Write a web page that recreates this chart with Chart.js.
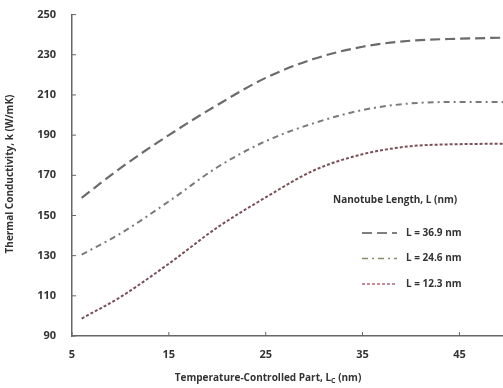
<!DOCTYPE html>
<html>
<head>
<meta charset="utf-8">
<script src="https://cdn.jsdelivr.net/npm/chart.js@4.4.0/dist/chart.umd.min.js"></script>
<style>
  html, body { margin: 0; padding: 0; background: #fff; }
  #wrap { width: 503px; height: 388px; }
</style>
</head>
<body>
<div id="wrap"><canvas id="kChart"></canvas></div>
<script>
// Data
const lc = [6, 10, 15, 20, 25, 30, 35, 40, 45, 49.5];
const k369 = [158.8, 173.6, 190, 205, 218.5, 228, 234, 237, 238, 238.5];
const k246 = [130.5, 141, 157, 174, 187, 196, 202.5, 205.8, 206.5, 206.5];
const k123 = [98.7, 109.4, 126, 144, 159, 172.5, 180.5, 184.5, 185.5, 185.7];
const seriesLabels = ['L = 36.9 nm', 'L = 24.6 nm', 'L = 12.3 nm'];
const xTicks = [5, 15, 25, 35, 45];
const yTicks = [90, 110, 130, 150, 170, 190, 210, 230, 250];

const textColor = '#333';
const axisColor = '#666';

function pts(ys) {
    return lc.map((x, i) => ({ x: x, y: ys[i] }));
}

// small inward ticks, axis titles and the legend box drawn on the canvas
const decorations = {
    id: 'decorations',
    afterDraw(chart) {
        const ctx = chart.ctx;
        const xs = chart.scales.x, ys = chart.scales.y;
        const area = chart.chartArea;
        ctx.save();
        ctx.strokeStyle = axisColor;
        ctx.lineWidth = 1;
        xTicks.forEach(v => {
            const px = xs.getPixelForValue(v);
            ctx.beginPath();
            ctx.moveTo(px, area.bottom);
            ctx.lineTo(px, area.bottom - 4);
            ctx.stroke();
        });
        yTicks.forEach(v => {
            const py = ys.getPixelForValue(v);
            ctx.beginPath();
            ctx.moveTo(area.left, py);
            ctx.lineTo(area.left + 4, py);
            ctx.stroke();
        });

        ctx.fillStyle = textColor;
        // y title
        ctx.font = 'bold 10px "Open Sans"';
        ctx.textAlign = 'center';
        ctx.textBaseline = 'middle';
        ctx.save();
        ctx.translate(10, 174);
        ctx.rotate(-Math.PI / 2);
        ctx.fillText('Thermal Conductivity, k (W/mK)', 0, 0);
        ctx.restore();

        // x title with subscript
        const main = 'Temperature-Controlled Part, L';
        const sub = 'C';
        const tail = ' (nm)';
        ctx.font = 'bold 10px "Open Sans"';
        const w1 = ctx.measureText(main).width;
        const w3 = ctx.measureText(tail).width;
        ctx.font = 'bold 7px "Open Sans"';
        const w2 = ctx.measureText(sub).width;
        let x0 = 268 - (w1 + w2 + w3) / 2;
        const yT = 378;
        ctx.textAlign = 'left';
        ctx.font = 'bold 10px "Open Sans"';
        ctx.fillText(main, x0, yT);
        ctx.font = 'bold 7px "Open Sans"';
        ctx.fillText(sub, x0 + w1, yT + 3);
        ctx.font = 'bold 10px "Open Sans"';
        ctx.fillText(tail, x0 + w1 + w2, yT);

        // legend
        ctx.font = 'bold 10px "Open Sans"';
        ctx.textAlign = 'left';
        ctx.fillText('Nanotube Length, L (nm)', 333, 200);
        const rows = [233, 258.5, 284];
        chart.data.datasets.forEach((ds, i) => {
            ctx.save();
            ctx.strokeStyle = ds.legendColor;
            ctx.lineWidth = 1.5;
            ctx.setLineDash(ds.borderDash);
            ctx.beginPath();
            ctx.moveTo(362, rows[i]);
            ctx.lineTo(397, rows[i]);
            ctx.stroke();
            ctx.restore();
            ctx.fillStyle = textColor;
            ctx.font = 'bold 10px "Open Sans"';
            ctx.fillText(ds.label, 406, rows[i]);
        });
        ctx.restore();
    }
};

new Chart(document.getElementById('kChart'), {
    type: 'line',
    data: {
        datasets: [{
            label: seriesLabels[0],
            data: pts(k369),
            borderColor: '#6b6b6b',
            legendColor: '#555',
            borderDash: [10, 5],
            borderWidth: 2.2
        }, {
            label: seriesLabels[1],
            data: pts(k246),
            borderColor: '#7a7a7a',
            legendColor: '#8a8a6a',
            borderDash: [6, 4, 2, 4],
            borderWidth: 2
        }, {
            label: seriesLabels[2],
            data: pts(k123),
            borderColor: '#7a5058',
            legendColor: '#b06a78',
            borderDash: [3, 2],
            borderWidth: 2
        }]
    },
    options: {
        responsive: true,
        maintainAspectRatio: false,
        animation: false,
        layout: { padding: { top: 6, right: 0, left: 0, bottom: 0 } },
        elements: {
            point: { radius: 0 },
            line: { tension: 0.4, cubicInterpolationMode: 'monotone' }
        },
        plugins: { legend: { display: false }, tooltip: { enabled: false } },
        scales: {
            x: {
                type: 'linear',
                min: 5,
                max: 49.5,
                afterBuildTicks: s => { s.ticks = xTicks.map(v => ({ value: v })); },
                afterFit: s => { s.height = 52; },
                grid: { display: false },
                border: { display: true, color: axisColor, width: 1.5 },
                ticks: { color: textColor, padding: 4, font: { family: 'Open Sans', size: 11, weight: 'bold' } }
            },
            y: {
                min: 90,
                max: 250,
                afterBuildTicks: s => { s.ticks = yTicks.map(v => ({ value: v })); },
                afterFit: s => { s.width = 72; },
                grid: { display: false },
                border: { display: true, color: axisColor, width: 1.5 },
                ticks: { color: textColor, padding: 8, font: { family: 'Open Sans', size: 11, weight: 'bold' } }
            }
        }
    },
    plugins: [decorations]
});
</script>
</body>
</html>
